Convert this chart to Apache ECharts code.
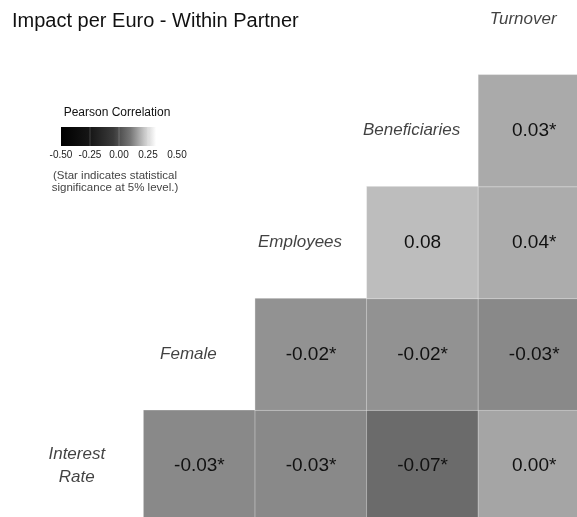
<!DOCTYPE html>
<html>
<head>
<meta charset="utf-8">
<script src="https://cdn.jsdelivr.net/npm/echarts@6/dist/echarts.min.js"></script>
<style>
  html, body { margin: 0; padding: 0; background: #fff; }
  #chart { width: 577px; height: 517px; }
</style>
</head>
<body>
<div id="chart"></div>
<script>
// Variables, ordered left-to-right on x and bottom-to-top on y
const variables = ['Interest Rate', 'Female', 'Employees', 'Beneficiaries', 'Turnover'];
const variableLabels = ['Interest\nRate', 'Female', 'Employees', 'Beneficiaries', 'Turnover'];

// Correlations per row (y index), for columns x > y
const rowInterestRate = [-0.03, -0.03, -0.07, 0.00];   // x = 1..4
const rowFemale = [-0.02, -0.02, -0.03];               // x = 2..4
const rowEmployees = [0.08, 0.04];                     // x = 3..4
const rowBeneficiaries = [0.03];                       // x = 4

// Significance at 5% level, same layout
const sigInterestRate = [true, true, true, true];
const sigFemale = [true, true, true];
const sigEmployees = [false, true];
const sigBeneficiaries = [true];

// Legend tick labels
const legendTicks = ['-0.50', '-0.25', '0.00', '0.25', '0.50'];

const rows = [rowInterestRate, rowFemale, rowEmployees, rowBeneficiaries];
const sigs = [sigInterestRate, sigFemale, sigEmployees, sigBeneficiaries];

const cells = [];
rows.forEach((vals, y) => {
  vals.forEach((v, k) => {
    const x = y + 1 + k;
    cells.push({ value: [x, y, v], sig: sigs[y][k] });
  });
});

const diagonal = variables.map((_, i) => ({ value: [i, i], name: variableLabels[i] }));

const chart = echarts.init(document.getElementById('chart'), null, { renderer: 'canvas' });

const fontFamily = '"Liberation Sans", Arial, Helvetica, sans-serif';

// Gradient legend drawn as graphic elements
const legendLeft = 61, legendWidth = 116, legendTop = 127, legendHeight = 19;
const legendGraphics = [
  {
    type: 'text',
    style: { x: 117, y: 113, text: 'Pearson Correlation', font: '12px ' + fontFamily, fill: '#111', align: 'center', verticalAlign: 'middle' }
  },
  {
    type: 'rect',
    shape: { x: legendLeft, y: legendTop, width: legendWidth, height: legendHeight },
    style: {
      fill: new echarts.graphic.LinearGradient(0, 0, 1, 0, [
        { offset: 0, color: '#000000' },
        { offset: 0.25, color: '#161616' },
        { offset: 0.45, color: '#3a3a3a' },
        { offset: 0.6, color: '#777777' },
        { offset: 0.72, color: '#c8c8c8' },
        { offset: 0.82, color: '#ffffff' },
        { offset: 1, color: '#ffffff' }
      ])
    }
  },
  {
    type: 'text',
    style: { x: 115, y: 176, text: '(Star indicates statistical', font: '11.5px ' + fontFamily, fill: '#444', align: 'center', verticalAlign: 'middle' }
  },
  {
    type: 'text',
    style: { x: 115, y: 188, text: 'significance at 5% level.)', font: '11.5px ' + fontFamily, fill: '#444', align: 'center', verticalAlign: 'middle' }
  }
];
legendTicks.forEach((t, i) => {
  const cx = legendLeft + i * legendWidth / (legendTicks.length - 1);
  legendGraphics.push({
    type: 'text',
    style: { x: cx, y: 155, text: t, font: '10px ' + fontFamily, fill: '#222', align: 'center', verticalAlign: 'middle' }
  });
  if (i > 0 && i < legendTicks.length - 1) {
    legendGraphics.push({
      type: 'line',
      shape: { x1: cx, y1: legendTop, x2: cx, y2: legendTop + legendHeight },
      style: { stroke: 'rgba(255,255,255,0.2)', lineWidth: 1 }
    });
  }
});

chart.setOption({
  backgroundColor: '#ffffff',
  animation: false,
  title: {
    text: 'Impact per Euro - Within Partner',
    left: 7, top: 6,
    textStyle: { fontFamily: fontFamily, fontSize: 20, fontWeight: 'normal', color: '#111' }
  },
  grid: { left: 32, top: -37, width: 558, height: 559, outerBoundsMode: 'none', containLabel: false },
  xAxis: {
    type: 'category', data: variables, show: false
  },
  yAxis: {
    type: 'category', data: variables, show: false
  },
  visualMap: {
    show: false,
    type: 'continuous',
    seriesIndex: 0,
    dimension: 2,
    min: -0.08,
    max: 0.08,
    inRange: { color: ['#646464', '#7f7f7f', '#a5a5a5', '#acacac', '#bdbdbd'] }
  },
  graphic: legendGraphics,
  series: [
    {
      type: 'heatmap',
      data: cells,
      itemStyle: { borderColor: 'rgba(255,255,255,0.35)', borderWidth: 1 },
      label: {
        show: true,
        fontFamily: fontFamily,
        fontSize: 19,
        color: '#111',
        formatter: p => p.value[2].toFixed(2) + (p.data.sig ? '*' : '')
      },
      emphasis: { disabled: true }
    },
    {
      type: 'scatter',
      data: diagonal,
      symbolSize: 0,
      silent: true,
      label: {
        show: true,
        position: 'inside',
        offset: [-11, 0],
        fontFamily: fontFamily,
        fontSize: 17,
        fontStyle: 'italic',
        color: '#111',
        lineHeight: 23,
        formatter: p => p.name
      }
    }
  ]
});
</script>
</body>
</html>
